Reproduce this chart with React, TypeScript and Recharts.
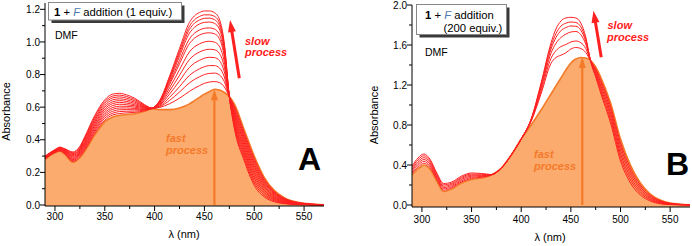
import React from 'react';
import { ComposedChart, Area, Line, XAxis, YAxis, ReferenceLine } from 'recharts';

const FONT = "'Liberation Sans', Arial, sans-serif";
const RED = '#FF2020';
const ORANGE = '#F47A2A';
const FILL = '#FBAB6E';

// ---------- Panel A (1 equiv.) ----------
const WL_A = [290, 300, 305, 310, 318, 325, 330, 340, 350, 358, 365, 372, 380, 390, 397, 405, 415, 425, 435, 440, 445, 450, 455, 460, 465, 470, 475, 480, 490, 500, 510, 520, 530, 545, 570];
const ORANGE_A = [0.28, 0.32, 0.33, 0.31, 0.262, 0.29, 0.33, 0.43, 0.51, 0.54, 0.55, 0.555, 0.56, 0.575, 0.59, 0.585, 0.585, 0.595, 0.62, 0.64, 0.66, 0.68, 0.695, 0.71, 0.705, 0.69, 0.665, 0.62, 0.46, 0.30, 0.17, 0.09, 0.045, 0.015, 0.001];
const RED_A1 = [0.282, 0.322, 0.332, 0.313, 0.267, 0.296, 0.338, 0.44, 0.521, 0.552, 0.561, 0.565, 0.568, 0.578, 0.59, 0.598, 0.621, 0.655, 0.697, 0.716, 0.732, 0.746, 0.754, 0.757, 0.751, 0.724, 0.665, 0.608, 0.444, 0.285, 0.16, 0.084, 0.042, 0.014, 0.001];
const RED_A2 = [0.283, 0.323, 0.334, 0.316, 0.273, 0.302, 0.345, 0.45, 0.533, 0.563, 0.573, 0.575, 0.576, 0.582, 0.591, 0.603, 0.641, 0.693, 0.749, 0.77, 0.786, 0.8, 0.807, 0.809, 0.798, 0.756, 0.665, 0.595, 0.428, 0.27, 0.15, 0.078, 0.039, 0.013, 0.001];
const RED_A3 = [0.285, 0.325, 0.336, 0.319, 0.278, 0.308, 0.353, 0.46, 0.544, 0.575, 0.584, 0.585, 0.584, 0.585, 0.591, 0.607, 0.66, 0.726, 0.795, 0.818, 0.835, 0.848, 0.855, 0.855, 0.841, 0.785, 0.665, 0.583, 0.413, 0.255, 0.14, 0.073, 0.036, 0.012, 0.001];
const RED_A4 = [0.287, 0.327, 0.338, 0.322, 0.283, 0.313, 0.36, 0.47, 0.555, 0.587, 0.595, 0.595, 0.592, 0.588, 0.592, 0.612, 0.68, 0.761, 0.844, 0.87, 0.887, 0.9, 0.906, 0.904, 0.886, 0.816, 0.665, 0.57, 0.397, 0.24, 0.13, 0.067, 0.033, 0.011, 0.001];
const RED_A5 = [0.288, 0.328, 0.34, 0.325, 0.288, 0.319, 0.368, 0.48, 0.566, 0.598, 0.606, 0.605, 0.6, 0.592, 0.592, 0.617, 0.699, 0.795, 0.892, 0.92, 0.938, 0.95, 0.955, 0.952, 0.93, 0.846, 0.665, 0.558, 0.381, 0.225, 0.12, 0.061, 0.03, 0.01, 0.001];
const RED_A6 = [0.29, 0.33, 0.343, 0.328, 0.294, 0.325, 0.375, 0.49, 0.578, 0.61, 0.618, 0.615, 0.608, 0.595, 0.593, 0.622, 0.718, 0.83, 0.939, 0.97, 0.988, 1.0, 1.004, 0.999, 0.973, 0.876, 0.665, 0.545, 0.365, 0.21, 0.11, 0.055, 0.027, 0.009, 0.001];
const RED_A7 = [0.292, 0.332, 0.345, 0.33, 0.299, 0.331, 0.383, 0.5, 0.589, 0.622, 0.629, 0.625, 0.615, 0.598, 0.593, 0.627, 0.738, 0.866, 0.99, 1.023, 1.042, 1.053, 1.056, 1.05, 1.02, 0.908, 0.665, 0.533, 0.349, 0.195, 0.1, 0.049, 0.023, 0.007, 0.0005];
const RED_A8 = [0.293, 0.333, 0.347, 0.333, 0.304, 0.337, 0.39, 0.51, 0.6, 0.633, 0.64, 0.635, 0.623, 0.602, 0.593, 0.63, 0.75, 0.887, 1.019, 1.054, 1.073, 1.084, 1.086, 1.079, 1.047, 0.926, 0.665, 0.52, 0.333, 0.18, 0.09, 0.043, 0.02, 0.006, 0.0005];
const RED_A9 = [0.295, 0.335, 0.349, 0.336, 0.309, 0.343, 0.398, 0.52, 0.611, 0.645, 0.651, 0.645, 0.631, 0.605, 0.594, 0.633, 0.763, 0.912, 1.054, 1.09, 1.11, 1.12, 1.122, 1.114, 1.079, 0.948, 0.665, 0.508, 0.318, 0.165, 0.08, 0.038, 0.017, 0.005, 0];
const RED_A10 = [0.297, 0.337, 0.351, 0.339, 0.315, 0.348, 0.405, 0.53, 0.623, 0.657, 0.663, 0.655, 0.639, 0.608, 0.594, 0.636, 0.773, 0.929, 1.077, 1.115, 1.134, 1.145, 1.146, 1.137, 1.1, 0.963, 0.665, 0.495, 0.302, 0.15, 0.07, 0.032, 0.014, 0.004, 0];
const RED_A11 = [0.298, 0.338, 0.353, 0.342, 0.32, 0.354, 0.413, 0.54, 0.634, 0.668, 0.674, 0.665, 0.647, 0.612, 0.595, 0.638, 0.781, 0.943, 1.097, 1.136, 1.156, 1.166, 1.166, 1.157, 1.119, 0.976, 0.665, 0.483, 0.286, 0.135, 0.06, 0.026, 0.011, 0.003, 0];
const RED_A12 = [0.30, 0.34, 0.355, 0.345, 0.325, 0.36, 0.42, 0.55, 0.645, 0.68, 0.685, 0.675, 0.655, 0.615, 0.595, 0.64, 0.79, 0.96, 1.12, 1.16, 1.18, 1.19, 1.19, 1.18, 1.14, 0.99, 0.665, 0.47, 0.27, 0.12, 0.05, 0.02, 0.008, 0.002, 0];
const REDS_A = [RED_A1, RED_A2, RED_A3, RED_A4, RED_A5, RED_A6, RED_A7, RED_A8, RED_A9, RED_A10, RED_A11, RED_A12];

// ---------- Panel B (200 equiv.) ----------
const WL_B = [290, 296, 302, 308, 315, 322, 330, 340, 350, 360, 370, 380, 390, 400, 410, 420, 430, 435, 440, 445, 450, 455, 460, 465, 470, 475, 480, 490, 500, 510, 520, 530, 540, 550, 570];
const ORANGE_B = [0.30, 0.36, 0.40, 0.36, 0.24, 0.135, 0.16, 0.22, 0.255, 0.27, 0.30, 0.37, 0.50, 0.66, 0.80, 0.95, 1.11, 1.19, 1.27, 1.35, 1.42, 1.46, 1.475, 1.47, 1.445, 1.38, 1.28, 1.02, 0.66, 0.40, 0.22, 0.11, 0.05, 0.02, 0.002];
const RED_B1 = [0.315, 0.378, 0.418, 0.377, 0.253, 0.148, 0.172, 0.232, 0.266, 0.278, 0.301, 0.37, 0.50, 0.66, 0.836, 1.112, 1.416, 1.475, 1.498, 1.522, 1.56, 1.575, 1.565, 1.525, 1.44, 1.363, 1.253, 0.987, 0.623, 0.37, 0.20, 0.098, 0.044, 0.017, 0.002];
const RED_B2 = [0.33, 0.397, 0.437, 0.393, 0.267, 0.162, 0.183, 0.243, 0.277, 0.285, 0.302, 0.37, 0.50, 0.66, 0.842, 1.139, 1.467, 1.543, 1.584, 1.605, 1.63, 1.64, 1.623, 1.565, 1.44, 1.347, 1.227, 0.953, 0.587, 0.34, 0.18, 0.087, 0.037, 0.015, 0.001];
const RED_B3 = [0.345, 0.415, 0.455, 0.41, 0.28, 0.175, 0.195, 0.255, 0.288, 0.293, 0.303, 0.37, 0.50, 0.66, 0.848, 1.166, 1.518, 1.617, 1.675, 1.709, 1.73, 1.735, 1.703, 1.609, 1.44, 1.33, 1.20, 0.92, 0.55, 0.31, 0.16, 0.075, 0.031, 0.012, 0.001];
const RED_B4 = [0.36, 0.433, 0.473, 0.427, 0.293, 0.188, 0.207, 0.267, 0.298, 0.30, 0.303, 0.37, 0.50, 0.66, 0.853, 1.188, 1.559, 1.675, 1.743, 1.774, 1.79, 1.788, 1.748, 1.636, 1.44, 1.313, 1.173, 0.887, 0.513, 0.28, 0.14, 0.063, 0.025, 0.009, 0.001];
const RED_B5 = [0.375, 0.452, 0.492, 0.443, 0.307, 0.202, 0.218, 0.278, 0.309, 0.308, 0.304, 0.37, 0.50, 0.66, 0.856, 1.204, 1.589, 1.714, 1.789, 1.818, 1.83, 1.825, 1.782, 1.657, 1.44, 1.297, 1.147, 0.853, 0.477, 0.25, 0.12, 0.052, 0.018, 0.007, 0];
const RED_B6 = [0.39, 0.47, 0.51, 0.46, 0.32, 0.215, 0.23, 0.29, 0.32, 0.315, 0.305, 0.37, 0.50, 0.66, 0.86, 1.22, 1.62, 1.76, 1.84, 1.87, 1.877, 1.87, 1.82, 1.68, 1.43, 1.28, 1.12, 0.82, 0.44, 0.22, 0.10, 0.04, 0.012, 0.004, 0];
const REDS_B = [RED_B1, RED_B2, RED_B3, RED_B4, RED_B5, RED_B6];

// ---------- ticks ----------
const X_TICKS = [300, 325, 350, 375, 400, 425, 450, 475, 500, 525, 550];
const Y_TICKS_A = [0, 0.1, 0.2, 0.3, 0.4, 0.5, 0.6, 0.7, 0.8, 0.9, 1.0, 1.1, 1.2];
const Y_TICKS_B = [0, 0.2, 0.4, 0.6, 0.8, 1.0, 1.2, 1.4, 1.6, 1.8, 2.0];

const buildRows = (wl: number[], orange: number[], reds: number[][]) =>
  wl.map((w, i) => {
    const row: Record<string, number> = { wl: w, o: orange[i] };
    reds.forEach((s, k) => { row['r' + k] = s[i]; });
    return row;
  });

const ROWS_A = buildRows(WL_A, ORANGE_A, REDS_A);
const ROWS_B = buildRows(WL_B, ORANGE_B, REDS_B);

const makeXTick = (labelDy: number) => (props: any) => {
  const { x, y, payload } = props;
  const v = payload.value as number;
  const major = v % 50 === 0;
  return (
    <g>
      <line x1={x} x2={x} y1={y} y2={y + (major ? 5 : 3)} stroke="#000" strokeWidth={1} />
      {major && (
        <text x={x} y={y + labelDy} textAnchor="middle" fontSize={10} fontFamily={FONT} fill="#000">
          {v}
        </text>
      )}
    </g>
  );
};

const makeYTick = (majorEvery: number) => (props: any) => {
  const { x, y, payload } = props;
  const v = payload.value as number;
  const major = Math.round(v * 10) % majorEvery === 0;
  return (
    <g>
      <line x1={x - (major ? 5 : 3)} x2={x} y1={y} y2={y} stroke="#000" strokeWidth={1} />
      {major && (
        <text x={x - 5} y={y + 3.6} textAnchor="end" fontSize={10} fontFamily={FONT} fill="#000">
          {v.toFixed(1)}
        </text>
      )}
    </g>
  );
};

const arrowShape = (color: string, width: number, headLen: number, headW: number) => (props: any) => {
  const { x1, y1, x2, y2 } = props;
  const dx = x2 - x1;
  const dy = y2 - y1;
  const len = Math.hypot(dx, dy) || 1;
  const ux = dx / len;
  const uy = dy / len;
  const bx = x2 - ux * headLen;
  const by = y2 - uy * headLen;
  const px = -uy;
  const py = ux;
  return (
    <g>
      <line x1={x1} y1={y1} x2={bx + ux} y2={by + uy} stroke={color} strokeWidth={width} />
      <polygon
        points={`${x2},${y2} ${bx + (px * headW) / 2},${by + (py * headW) / 2} ${bx - (px * headW) / 2},${by - (py * headW) / 2}`}
        fill={color}
      />
    </g>
  );
};

type PanelProps = {
  rows: Record<string, number>[];
  nReds: number;
  yDomain: [number, number];
  yTicks: number[];
  majorEvery: number;
  margin: { top: number; right: number; bottom: number; left: number };
  yWidth: number;
  xHeight: number;
  xLabelDy: number;
  fastArrow: [{ x: number; y: number }, { x: number; y: number }];
  slowArrow: [{ x: number; y: number }, { x: number; y: number }];
};

const Panel = (p: PanelProps) => (
  <ComposedChart width={346} height={246} data={p.rows} margin={p.margin}>
    <XAxis
      dataKey="wl"
      type="number"
      domain={[290, 570]}
      allowDataOverflow
      ticks={X_TICKS}
      interval={0}
      tickSize={0}
      tickMargin={0}
      tickLine={false}
      height={p.xHeight}
      axisLine={{ stroke: '#000', strokeWidth: 1 }}
      tick={makeXTick(p.xLabelDy)}
    />
    <YAxis
      type="number"
      domain={p.yDomain}
      allowDataOverflow
      ticks={p.yTicks}
      interval={0}
      tickSize={0}
      tickMargin={0}
      tickLine={false}
      width={p.yWidth}
      axisLine={{ stroke: '#000', strokeWidth: 1 }}
      tick={makeYTick(p.majorEvery)}
    />
    <Area
      dataKey="o"
      type="monotone"
      baseValue="dataMin"
      fill={FILL}
      fillOpacity={1}
      stroke={ORANGE}
      strokeWidth={1.6}
      dot={false}
      activeDot={false}
      isAnimationActive={false}
    />
    {Array.from({ length: p.nReds }, (_, k) => (
      <Line
        key={k}
        dataKey={'r' + k}
        type="monotone"
        stroke={RED}
        strokeWidth={1}
        dot={false}
        activeDot={false}
        isAnimationActive={false}
      />
    ))}
    <ReferenceLine segment={p.fastArrow} ifOverflow="visible" shape={arrowShape(ORANGE, 2.2, 11, 7)} />
    <ReferenceLine segment={p.slowArrow} ifOverflow="visible" shape={arrowShape(RED, 3, 12, 8)} />
  </ComposedChart>
);

const textBase = { fontFamily: FONT, whiteSpace: 'pre' as const };

export default function App() {
  return (
    <div style={{ position: 'absolute', left: 0, top: 0, width: 692, height: 246, background: '#fff', overflow: 'hidden' }}>
      <div style={{ position: 'absolute', left: 0, top: 0 }}>
        <Panel
          rows={ROWS_A}
          nReds={12}
          yDomain={[-0.0061, 1.2388]}
          yTicks={Y_TICKS_A}
          majorEvery={2}
          margin={{ top: 3, right: 22, bottom: 0, left: 0 }}
          yWidth={45}
          xHeight={40}
          xLabelDy={14}
          fastArrow={[{ x: 460, y: 0 }, { x: 460, y: 0.71 }]}
          slowArrow={[{ x: 485, y: 0.777 }, { x: 475.7, y: 1.134 }]}
        />
      </div>
      <div style={{ position: 'absolute', left: 346, top: 0 }}>
        <Panel
          rows={ROWS_B}
          nReds={6}
          yDomain={[-0.02, 2.0]}
          yTicks={Y_TICKS_B}
          majorEvery={4}
          margin={{ top: 5, right: 2, bottom: 0, left: 0 }}
          yWidth={66}
          xHeight={39}
          xLabelDy={16}
          fastArrow={[{ x: 461.5, y: 0 }, { x: 461.5, y: 1.48 }]}
          slowArrow={[{ x: 480.6, y: 1.477 }, { x: 472.8, y: 1.943 }]}
        />
      </div>
      <svg width={692} height={246} style={{ position: 'absolute', left: 0, top: 0, pointerEvents: 'none' }}>
        {/* Panel A annotations */}
        <rect x={51.5} y={5.5} width={133} height={17.5} fill="#3a3a3a" />
        <rect x={48.5} y={2.5} width={133} height={17.5} fill="#fff" stroke="#888" strokeWidth={1} />
        <text x={54} y={16.3} fontSize={11.3} fill="#000" style={textBase}>
          <tspan fontWeight="bold">1</tspan>
          <tspan>{' + '}</tspan>
          <tspan fontStyle="italic" fill="#4F7BAA">F</tspan>
          <tspan>{' addition (1 equiv.)'}</tspan>
        </text>
        <text x={55} y={38.5} fontSize={10.5} fill="#000" style={textBase}>DMF</text>
        <text x={245} y={45} fontSize={11} fontWeight="bold" fontStyle="italic" fill={RED} style={textBase}>slow</text>
        <text x={245} y={56} fontSize={11} fontWeight="bold" fontStyle="italic" fill={RED} style={textBase}>process</text>
        <text x={166} y={141.5} fontSize={11} fontWeight="bold" fontStyle="italic" fill={ORANGE} style={textBase}>fast</text>
        <text x={166} y={153.5} fontSize={11} fontWeight="bold" fontStyle="italic" fill={ORANGE} style={textBase}>process</text>
        <text x={298} y={170} fontSize={32} fontWeight="bold" fill="#000" style={textBase}>A</text>
        <text x={184} y={238} fontSize={11} textAnchor="middle" fill="#000" style={textBase}>λ (nm)</text>
        <text x={0} y={0} fontSize={11} textAnchor="middle" fill="#000" style={textBase} transform="translate(10.3,111.5) rotate(-90)">Absorbance</text>

        {/* Panel B annotations */}
        <rect x={419.5} y={7.5} width={90} height={30} fill="#3a3a3a" />
        <rect x={416.5} y={4.5} width={90} height={30} fill="#fff" stroke="#888" strokeWidth={1} />
        <text x={425} y={19} fontSize={11.3} fill="#000" style={textBase}>
          <tspan fontWeight="bold">1</tspan>
          <tspan>{' + '}</tspan>
          <tspan fontStyle="italic" fill="#4F7BAA">F</tspan>
          <tspan>{' addition'}</tspan>
        </text>
        <text x={443.5} y={32.3} fontSize={11.3} fill="#000" style={textBase}>(200 equiv.)</text>
        <text x={425} y={55.5} fontSize={10.5} fill="#000" style={textBase}>DMF</text>
        <text x={607.5} y={29.3} fontSize={11} fontWeight="bold" fontStyle="italic" fill={RED} style={textBase}>slow</text>
        <text x={607} y={40.5} fontSize={11} fontWeight="bold" fontStyle="italic" fill={RED} style={textBase}>process</text>
        <text x={534} y={157.5} fontSize={11} fontWeight="bold" fontStyle="italic" fill={ORANGE} style={textBase}>fast</text>
        <text x={534} y={169.5} fontSize={11} fontWeight="bold" fontStyle="italic" fill={ORANGE} style={textBase}>process</text>
        <text x={666} y={175} fontSize={32} fontWeight="bold" fill="#000" style={textBase}>B</text>
        <text x={550} y={240.5} fontSize={11} textAnchor="middle" fill="#000" style={textBase}>λ (nm)</text>
        <text x={0} y={0} fontSize={11} textAnchor="middle" fill="#000" style={textBase} transform="translate(377.5,115) rotate(-90)">Absorbance</text>
      </svg>
    </div>
  );
}
